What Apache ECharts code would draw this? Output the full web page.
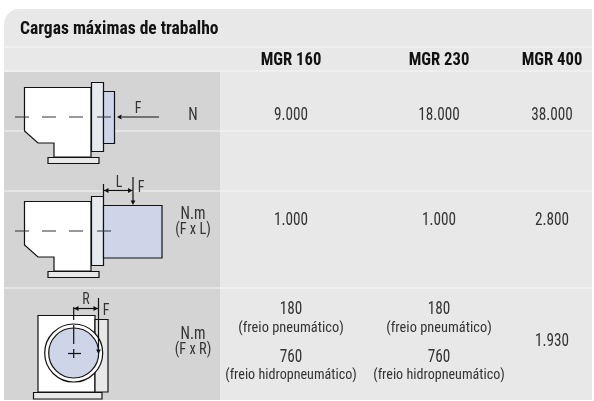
<!DOCTYPE html>
<html><head><meta charset="utf-8">
<style>html,body{margin:0;padding:0;background:#fff}#c{width:594px;height:401px}</style>
<script src="https://cdn.jsdelivr.net/npm/echarts@6/dist/echarts.min.js"></script>
</head><body><div id="c"></div>
<script>
const title = 'Cargas máximas de trabalho';
const models = ['MGR 160', 'MGR 230', 'MGR 400'];
const units = ['N', 'N.m\n(F x L)', 'N.m\n(F x R)'];
const row1 = ['9.000', '18.000', '38.000'];
const row2 = ['1.000', '1.000', '2.800'];
const row3Pneumatic = ['180', '180'];
const row3Hydro = ['760', '760'];
const row3Single = '1.930';
const brakePneumatic = '(freio pneumático)';
const brakeHydro = '(freio hidropneumático)';

const FONT = '"Liberation Sans Narrow","Roboto Condensed","Liberation Sans",sans-serif';
const colX = [291, 439, 552], rowY = [115, 220, 341], unitX = 193;
const LIGHT = '#e8e8e8', DARK = '#d4d4d4', BLUE = '#ced5e8', INK = '#111', TXT = '#333';
const LW = 1.2;
const g = [];
const rect = (x, y, w, h, fill, stroke, r) => g.push({type: 'rect', shape: {x, y, width: w, height: h, r: r || 0},
  style: {fill, stroke: stroke || null, lineWidth: stroke ? LW : 0}});
const line = (x1, y1, x2, y2, color, w) => g.push({type: 'line', shape: {x1, y1, x2, y2}, style: {stroke: color || INK, lineWidth: w || LW}});
const text = (s, x, y, size, opt) => {
  const o = Object.assign({sx: 0.87, weight: '', fill: TXT, align: 'center'}, opt || {});
  g.push({type: 'text', x, y: y + 1, scaleX: o.sx, style: {text: s, font: (o.weight ? o.weight + ' ' : '') + size + 'px ' + FONT, fill: o.fill, align: o.align, verticalAlign: 'middle'}});
};
const poly = (points, fill) => g.push({type: 'polygon', shape: {points}, style: {fill, stroke: INK, lineWidth: LW}});
const head = (x, y, dir) => {
  const s = 4.5, t = 2.4;
  const p = dir === 'l' ? [[x, y], [x + s, y - t], [x + s, y + t]] : dir === 'r' ? [[x, y], [x - s, y - t], [x - s, y + t]] : [[x, y], [x - t, y - s], [x + t, y - s]];
  g.push({type: 'polygon', shape: {points: p}, style: {fill: INK}});
};

// panel
rect(4, 9, 588, 391, LIGHT, null, [15, 0, 0, 0]);
rect(4, 72, 216, 328, DARK);
[47, 71, 131, 191, 288].forEach(y => g.push({type: 'rect', shape: {x: 4, y: y - 0.5, width: 588, height: 1}, style: {fill: '#f6f6f6'}}));

// diagrams
function gearbox(dy) {
  poly([[24.5, 87.5 + dy], [91, 87.5 + dy], [91, 157 + dy], [54, 157 + dy], [54, 143 + dy], [38, 143 + dy], [24.5, 131 + dy]], '#fff');
  rect(48, 157.5 + dy, 51, 6, LIGHT, INK);
  rect(91.5, 82.5 + dy, 12, 69, '#e6e9ee', INK);
}
function dashes(y) { [[15, 29], [42, 56], [69, 83], [97, 111]].forEach(d => line(d[0], y, d[1], y, '#333', 1)); }

gearbox(0);
rect(103.5, 91.5, 11, 52, BLUE, INK);
dashes(117);
line(122, 117, 159, 117); head(117, 117, 'l');
text('F', 138, 108, 16);

gearbox(114);
rect(103.5, 205.5, 58.5, 52.5, BLUE, INK);
dashes(231);
line(103.5, 184, 103.5, 196); line(133, 177, 133, 201); head(133, 205, 'd');
line(104, 190.5, 132.5, 190.5); head(104, 190.5, 'l'); head(132.5, 190.5, 'r');
text('L', 119, 182, 16); text('F', 141, 187, 16);

rect(38, 315.5, 57, 76.5, '#fff', INK);
rect(95, 319.5, 13, 72.5, LIGHT, INK);
rect(33.5, 392.5, 68.5, 6.5, LIGHT, INK);
g.push({type: 'circle', shape: {cx: 73.7, cy: 353, r: 29}, style: {fill: '#fff', stroke: INK, lineWidth: LW}});
g.push({type: 'circle', shape: {cx: 73.7, cy: 353, r: 25}, style: {fill: BLUE, stroke: INK, lineWidth: LW}});
line(68, 353.5, 81, 353.5); line(73.7, 325, 73.7, 344); line(73.7, 349, 73.7, 358);
line(73.7, 307, 73.7, 320); line(98.5, 298, 98.5, 351); head(98.5, 354, 'd');
line(74, 308.5, 98, 308.5); head(74, 308.5, 'l'); head(98, 308.5, 'r');
text('R', 86, 299, 16); text('F', 106, 310, 16);

// table text
text(title, 20, 28.5, 17.5, {align: 'left', fill: '#111', weight: 'bold', sx: 1});
models.forEach((m, i) => text(m, colX[i], 60, 17.5, {fill: '#111', weight: 'bold', sx: 0.95}));
units.forEach((u, r) => {
  const parts = u.split('\n');
  if (parts.length === 1) text(parts[0], unitX, rowY[0], 17.5);
  else { const y0 = r === 1 ? 214 : 334; text(parts[0], unitX, y0, 17.5); text(parts[1], unitX, y0 + 15, 16.5); }
});
row1.forEach((v, i) => text(v, colX[i], rowY[0], 17.5));
row2.forEach((v, i) => text(v, colX[i], rowY[1], 17.5));
row3Pneumatic.forEach((v, i) => { text(v, colX[i], 309, 17.5); text(brakePneumatic, colX[i], 327, 15, {sx: 0.96}); });
row3Hydro.forEach((v, i) => { text(v, colX[i], 357, 17.5); text(brakeHydro, colX[i], 374, 15, {sx: 0.94}); });
text(row3Single, colX[2], rowY[2], 17.5);

const chart = echarts.init(document.getElementById('c'), null, {renderer: 'canvas'});
chart.setOption({animation: false, backgroundColor: '#fff', graphic: {elements: g.map(e => Object.assign({silent: true}, e))}});
</script></body></html>
